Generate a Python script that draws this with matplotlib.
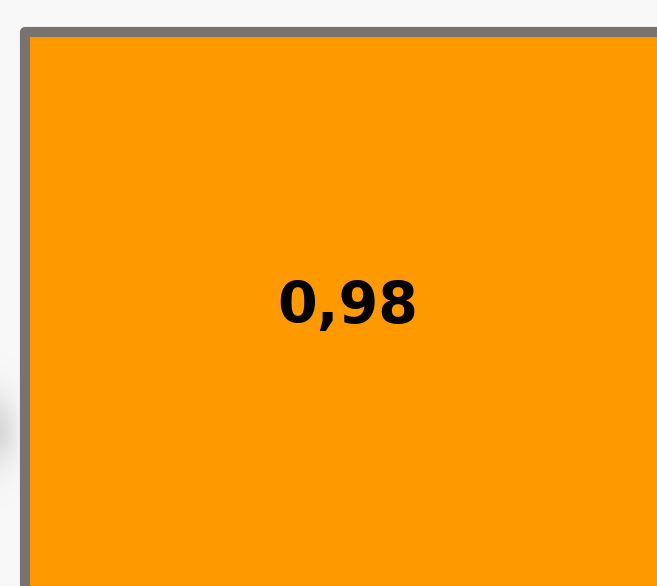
import numpy as np
import matplotlib
matplotlib.use("Agg")
import matplotlib.pyplot as plt

# Data
categories = ["A"]
values = [0.98]
labels = ["0,98"]

BG = "#f8f8f8"
ORANGE = "#ff9900"
EDGE = "#78736f"

W, H = 657, 586
fig = plt.figure(figsize=(W / 100, H / 100), dpi=100, facecolor=BG)

# soft shadow at left edge
sh = fig.add_axes([0, 0, 1, 1])
sh.set_axis_off()
yy, xx = np.mgrid[0:H, 0:W]
d = np.exp(-((yy - 430) / 36.0) ** 2) * np.clip(1 - xx / 22.0, 0, 1) ** 0.7
img = np.zeros((H, W, 4))
img[..., :3] = 0.7
img[..., 3] = 0.45 * d
sh.imshow(img, extent=[0, W, H, 0], aspect="auto", interpolation="bilinear")
sh.set_xlim(0, W)
sh.set_ylim(H, 0)

ax = fig.add_axes([0, 0, 1, 1])
ax.set_axis_off()
ax.patch.set_alpha(0)
ax.bar(np.arange(len(values)) + 0.5, [1.0] * len(values), width=1.0, bottom=0,
       color=ORANGE, edgecolor=EDGE, linewidth=7.3, joinstyle="round")
sx = 646.0
sy = 560.0
ax.set_xlim(-25 / sx, (W - 25) / sx)
ax.set_ylim((H - 32) / sy, -32 / sy)
ax.text(0.5, (308 - 32) / sy, labels[0], ha="center", va="center",
        fontsize=41, fontweight="bold", family=["DejaVu Sans"], color="black")

fig.savefig("out.png", dpi=100, facecolor=BG)
